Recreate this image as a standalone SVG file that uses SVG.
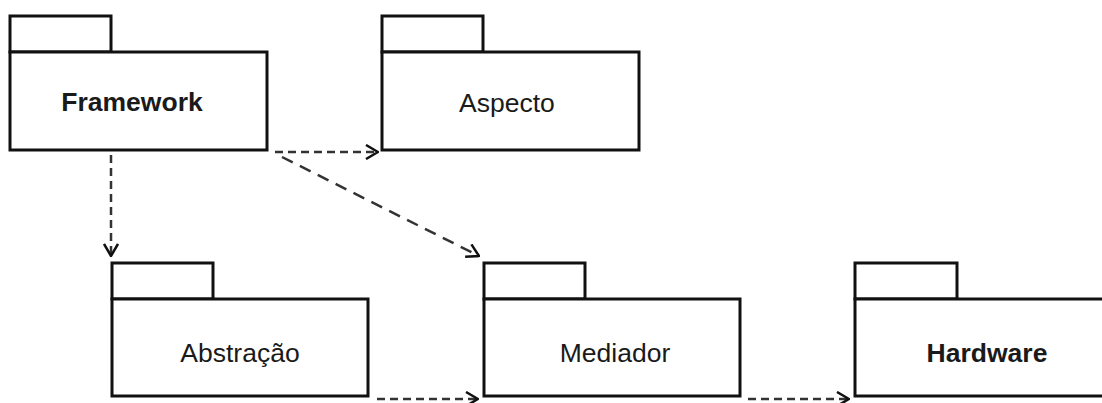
<svg xmlns="http://www.w3.org/2000/svg" width="1102" height="403" viewBox="0 0 1102 403">
  <style>
    .pkg { fill: #ffffff; stroke: #111111; stroke-width: 3; }
    .lbl { font-family: "Liberation Sans", Arial, sans-serif; font-size: 26.5px; fill: #1a1a1a; text-anchor: middle; }
    .bold { font-weight: bold; }
    .dep { fill: none; stroke: #333333; stroke-width: 2.5; stroke-dasharray: 8 5; }
    .long { stroke-dasharray: 12 8; }
  </style>
  <defs>
    <marker id="open" viewBox="0 0 14 16" refX="13" refY="8" markerWidth="14" markerHeight="16" markerUnits="userSpaceOnUse" orient="auto">
      <path d="M1,1 L13,8 L1,15" fill="none" stroke="#111111" stroke-width="2.5"/>
    </marker>
  </defs>
  <rect width="1102" height="403" fill="#ffffff"/>

  <g id="framework">
    <rect class="pkg" x="10" y="16" width="101" height="36"/>
    <rect class="pkg" x="10" y="52" width="257" height="98"/>
    <text class="lbl bold" x="132" y="111">Framework</text>
  </g>
  <g id="aspecto">
    <rect class="pkg" x="382" y="16" width="101" height="36"/>
    <rect class="pkg" x="382" y="52" width="257" height="98"/>
    <text class="lbl" x="507" y="111.5">Aspecto</text>
  </g>
  <g id="abstracao">
    <rect class="pkg" x="112" y="263" width="101" height="36"/>
    <rect class="pkg" x="112" y="299" width="256" height="97"/>
    <text class="lbl" x="240" y="361.5">Abstração</text>
  </g>
  <g id="mediador">
    <rect class="pkg" x="484" y="263" width="101" height="36"/>
    <rect class="pkg" x="484" y="299" width="256" height="97"/>
    <text class="lbl" x="615" y="361.5">Mediador</text>
  </g>
  <g id="hardware">
    <rect class="pkg" x="855" y="263" width="102" height="36"/>
    <rect class="pkg" x="855" y="299" width="262" height="97"/>
    <text class="lbl bold" x="987" y="361.5">Hardware</text>
  </g>

  <g id="connectors">
    <line class="dep" x1="275" y1="152" x2="378" y2="152" marker-end="url(#open)"/>
    <line class="dep long" x1="282" y1="157" x2="479" y2="256" marker-end="url(#open)"/>
    <line class="dep" x1="111" y1="155" x2="111" y2="256" marker-end="url(#open)"/>
    <line class="dep" x1="377" y1="399" x2="478" y2="399" marker-end="url(#open)"/>
    <line class="dep" x1="748" y1="399" x2="849" y2="399" marker-end="url(#open)"/>
  </g>
</svg>
